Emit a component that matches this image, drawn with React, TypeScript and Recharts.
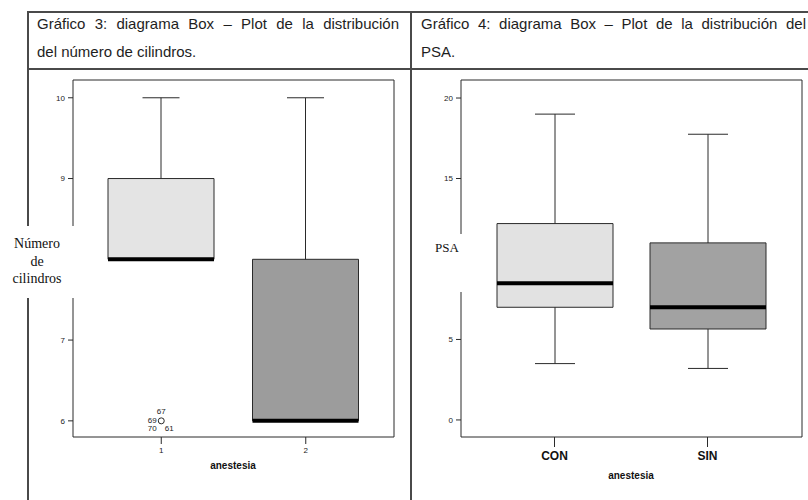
import { ComposedChart, Bar, Cell, Scatter, XAxis, YAxis } from "recharts";

// Gráfico 3: número de cilindros por anestesia
const cilGroups = ["1", "2"];
const cilMin = [8, 6];
const cilQ1 = [8, 6];
const cilMedian = [8, 6];
const cilQ3 = [9, 8];
const cilMax = [10, 10];
const cilOutlier = [6, null];
const cilOutlierIds = ["67", "69", "70", "61"];
const cilTicks = [6, 7, 8, 9, 10];

// Gráfico 4: PSA por anestesia
const psaGroups = ["CON", "SIN"];
const psaMin = [3.5, 3.2];
const psaQ1 = [7.0, 5.65];
const psaMedian = [8.5, 7.0];
const psaQ3 = [12.2, 11.0];
const psaMax = [19.0, 17.75];
const psaTicks = [0, 5, 10, 15, 20];

const buildRows = (
  groups: string[],
  mins: number[],
  q1s: number[],
  medians: number[],
  q3s: number[],
  maxs: number[],
  outliers?: (number | null)[]
) =>
  groups.map((g, i) => ({
    group: g,
    whisker: [mins[i], maxs[i]],
    box: [q1s[i], q3s[i]],
    median: [medians[i], medians[i]],
    outlier: outliers ? outliers[i] : null,
  }));

const cilRows = buildRows(cilGroups, cilMin, cilQ1, cilMedian, cilQ3, cilMax, cilOutlier);
const psaRows = buildRows(psaGroups, psaMin, psaQ1, psaMedian, psaQ3, psaMax);

const LINE = "#2a2a2a";
const SANS = "'Liberation Sans', Arial, sans-serif";
const SERIF = "'Liberation Serif', 'Times New Roman', serif";

const whiskerShape = (capWidth: number) => (props: any) => {
  const { x, y, width, height } = props;
  const top = Math.min(y, y + height);
  const bottom = Math.max(y, y + height);
  const cx = x + width / 2;
  return (
    <g stroke={LINE} strokeWidth={1}>
      <line x1={cx} x2={cx} y1={top} y2={bottom} />
      <line x1={cx - capWidth / 2} x2={cx + capWidth / 2} y1={top} y2={top} />
      <line x1={cx - capWidth / 2} x2={cx + capWidth / 2} y1={bottom} y2={bottom} />
    </g>
  );
};

const medianShape = (props: any) => {
  const { x, y, width } = props;
  return <line x1={x} x2={x + width} y1={y} y2={y} stroke="#000" strokeWidth={4} />;
};

const outlierShape = (ids: string[]) => (props: any) => {
  const { cx, cy, payload } = props;
  if (payload?.outlier == null || !Number.isFinite(cx) || !Number.isFinite(cy)) return <g />;
  const spots = [
    { dx: 0, dy: -9 },
    { dx: -9, dy: 0 },
    { dx: -9, dy: 8 },
    { dx: 8, dy: 8 },
  ];
  return (
    <g>
      <circle cx={cx} cy={cy} r={3} fill="#fff" stroke={LINE} strokeWidth={1} />
      {ids.map((id, i) => (
        <text
          key={id}
          x={cx + spots[i].dx}
          y={cy + spots[i].dy}
          textAnchor="middle"
          dominantBaseline="central"
          fontSize={8}
          fontFamily={SANS}
          fill="#222"
        >
          {id}
        </text>
      ))}
    </g>
  );
};

interface BoxPanelProps {
  data: ReturnType<typeof buildRows>;
  fills: string[];
  domain: [number, number];
  ticks: number[];
  width: number;
  height: number;
  margin: { top: number; right: number; bottom: number; left: number };
  barSize: number;
  capWidth: number;
  padding: { left: number; right: number };
  xTick: any;
  xTickSize: number;
  xTickMargin: number;
  outlierIds?: string[];
}

// axes need a size of at least 1px or Recharts skips drawing them
const BoxPanel = ({
  data,
  fills,
  domain,
  ticks,
  width,
  height,
  margin,
  barSize,
  capWidth,
  padding,
  xTick,
  xTickSize,
  xTickMargin,
  outlierIds,
}: BoxPanelProps) => (
  <ComposedChart width={width} height={height} data={data} margin={margin} barGap={-barSize}>
    <XAxis
      dataKey="group"
      type="category"
      height={1}
      padding={padding}
      axisLine={{ stroke: LINE }}
      tickLine={{ stroke: LINE }}
      tickSize={xTickSize}
      tickMargin={xTickMargin}
      tick={xTick}
      interval={0}
    />
    <XAxis
      xAxisId="top"
      orientation="top"
      dataKey="group"
      height={1}
      tick={false}
      tickLine={false}
      axisLine={{ stroke: LINE }}
    />
    <YAxis
      type="number"
      domain={domain}
      ticks={ticks}
      allowDataOverflow
      width={1}
      axisLine={{ stroke: LINE }}
      tickLine={{ stroke: LINE }}
      tickSize={5}
      tickMargin={3}
      tick={{ fontSize: 8, fontFamily: SANS, fill: "#222" }}
    />
    <YAxis
      yAxisId="right"
      orientation="right"
      type="number"
      domain={domain}
      width={1}
      tick={false}
      tickLine={false}
      axisLine={{ stroke: LINE }}
    />
    <Bar dataKey="whisker" barSize={barSize} shape={whiskerShape(capWidth)} isAnimationActive={false} />
    <Bar dataKey="box" barSize={barSize} stroke={LINE} strokeWidth={1} isAnimationActive={false}>
      {data.map((row, i) => (
        <Cell key={row.group} fill={fills[i]} />
      ))}
    </Bar>
    <Bar dataKey="median" barSize={barSize} shape={medianShape} isAnimationActive={false} />
    {outlierIds && (
      <Scatter dataKey="outlier" shape={outlierShape(outlierIds)} isAnimationActive={false} />
    )}
  </ComposedChart>
);

const hLine = (top: number, left: number, width: number) => (
  <div style={{ position: "absolute", top, left, width, height: 2, background: "#4a4a4a" }} />
);
const vLine = (left: number, top: number, height: number) => (
  <div style={{ position: "absolute", top, left, width: 2, height, background: "#4a4a4a" }} />
);

const headerStyle = {
  position: "absolute" as const,
  fontFamily: SANS,
  fontSize: 15,
  lineHeight: "18px",
  color: "#1e1e1e",
};

const App = () => (
  <div
    style={{
      position: "absolute",
      left: 0,
      top: 0,
      width: 808,
      height: 500,
      overflow: "hidden",
      background: "#fff",
      fontFamily: SANS,
    }}
  >
    {hLine(11, 27, 800)}
    {hLine(68, 27, 800)}
    {vLine(27, 11, 489)}
    {vLine(410, 11, 489)}

    <div style={{ ...headerStyle, left: 37, top: 15, width: 362, textAlign: "justify", textAlignLast: "justify" }}>
      Gráfico 3: diagrama Box – Plot de la distribución
    </div>
    <div style={{ ...headerStyle, left: 37, top: 43 }}>del número de cilindros.</div>
    <div style={{ ...headerStyle, left: 421, top: 15, width: 385, textAlign: "justify", textAlignLast: "justify" }}>
      Gráfico 4: diagrama Box – Plot de la distribución del
    </div>
    <div style={{ ...headerStyle, left: 421, top: 43 }}>PSA.</div>

    <div style={{ position: "absolute", left: 0, top: 0 }}>
      <BoxPanel
        data={cilRows}
        fills={["#e4e4e4", "#9c9c9c"]}
        domain={[5.8, 10.22]}
        ticks={cilTicks}
        width={404}
        height={500}
        margin={{ top: 79, right: 9, bottom: 62, left: 72 }}
        barSize={106}
        capWidth={37}
        padding={{ left: 16, right: 16 }}
        xTick={{ fontSize: 8, fontFamily: SANS, fill: "#222" }}
        xTickSize={7}
        xTickMargin={3}
        outlierIds={cilOutlierIds}
      />
    </div>
    <div style={{ position: "absolute", left: 404, top: 0 }}>
      <BoxPanel
        data={psaRows}
        fills={["#e2e2e2", "#a2a2a2"]}
        domain={[-1.06, 21.12]}
        ticks={psaTicks}
        width={404}
        height={500}
        margin={{ top: 79, right: 5, bottom: 62, left: 56 }}
        barSize={116}
        capWidth={40}
        padding={{ left: 17, right: 18 }}
        xTick={{ fontSize: 12, fontWeight: "bold", fontFamily: SANS, fill: "#111" }}
        xTickSize={10}
        xTickMargin={4}
      />
    </div>

    <div
      style={{
        position: "absolute",
        left: 6,
        top: 226,
        width: 70,
        height: 72,
        background: "#fff",
        fontFamily: SERIF,
        fontSize: 14,
        lineHeight: "17.5px",
        textAlign: "center",
        color: "#111",
        paddingTop: 9,
        paddingRight: 8,
        boxSizing: "border-box",
      }}
    >
      Número
      <br />
      de
      <br />
      cilindros
    </div>
    <div
      style={{
        position: "absolute",
        left: 428,
        top: 234,
        width: 36,
        height: 58,
        background: "#fff",
        fontFamily: SERIF,
        fontSize: 13,
        lineHeight: "16px",
        color: "#111",
        paddingTop: 6,
        paddingLeft: 7,
        boxSizing: "border-box",
      }}
    >
      PSA
    </div>

    <div
      style={{
        position: "absolute",
        left: 183,
        width: 100,
        top: 459,
        textAlign: "center",
        fontSize: 10,
        fontWeight: "bold",
        color: "#111",
        lineHeight: "14px",
      }}
    >
      anestesia
    </div>
    <div
      style={{
        position: "absolute",
        left: 581,
        width: 100,
        top: 469,
        textAlign: "center",
        fontSize: 10,
        fontWeight: "bold",
        color: "#111",
        lineHeight: "14px",
      }}
    >
      anestesia
    </div>
  </div>
);

export default App;
